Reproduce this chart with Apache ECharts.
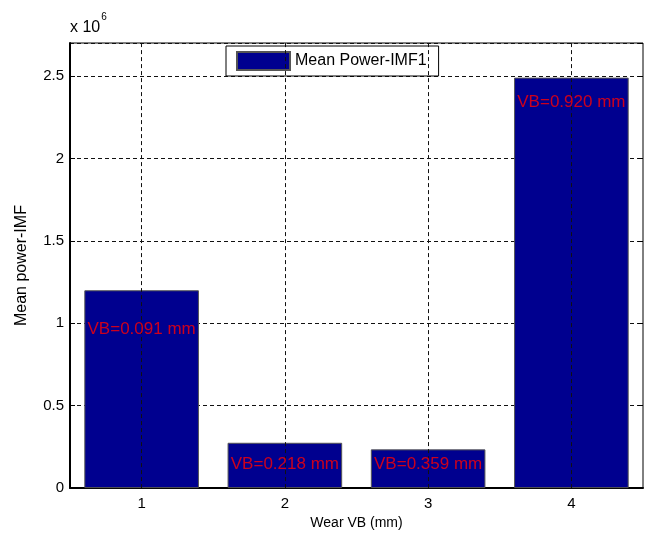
<!DOCTYPE html>
<html>
<head>
<meta charset="utf-8">
<script src="https://cdn.jsdelivr.net/npm/echarts@6/dist/echarts.min.js"></script>
<style>html,body{margin:0;padding:0;background:#fff}#c{width:649px;height:535px}</style>
</head>
<body>
<div id="c"></div>
<script>
var categories = ['1', '2', '3', '4'];
var meanPower = [1.2e6, 0.275e6, 0.235e6, 2.49e6];
var wearLabels = ['VB=0.091 mm', 'VB=0.218 mm', 'VB=0.359 mm', 'VB=0.920 mm'];
var labelY = [0.965e6, 0.145e6, 0.145e6, 2.34e6];
var yTickValues = [0, 0.5e6, 1e6, 1.5e6, 2e6, 2.5e6];

var FONT = '"Liberation Sans", Arial, sans-serif';
var chart = echarts.init(document.getElementById('c'), null, {renderer: 'canvas'});
var dashed = {type: [4, 3], color: '#111', width: 1};

chart.setOption({
  animation: false,
  textStyle: {fontFamily: FONT},
  grid: {left: 70, right: 6, top: 43, bottom: 45, show: true, borderColor: '#000', borderWidth: 1, backgroundColor: 'transparent'},
  legend: {
    data: [{name: 'Mean Power-IMF1', icon: 'rect'}],
    left: 226, top: 46,
    backgroundColor: '#fff', borderColor: '#000', borderWidth: 1,
    padding: [5, 12, 5, 10],
    itemWidth: 53, itemHeight: 18, itemGap: 5,
    textStyle: {fontFamily: FONT, fontSize: 16, color: '#000'},
    selectedMode: false
  },
  graphic: [{
    type: 'text', left: 70, top: 12,
    style: {
      text: '{a|x 10}{b|6}',
      rich: {
        a: {fontFamily: FONT, fontSize: 16, fill: '#000', verticalAlign: 'bottom', padding: [8, 1, 0, 0]},
        b: {fontFamily: FONT, fontSize: 10, fill: '#000', verticalAlign: 'top'}
      }
    }
  }],
  xAxis: [{
    type: 'category', data: categories, boundaryGap: true,
    name: 'Wear VB (mm)', nameLocation: 'middle', nameGap: 26,
    nameTextStyle: {fontFamily: FONT, fontSize: 14, color: '#000'},
    axisLine: {lineStyle: {color: '#000', width: 2}},
    axisTick: {alignWithLabel: true, inside: true, length: 5, lineStyle: {color: '#000'}},
    axisLabel: {fontFamily: FONT, fontSize: 15, color: '#000', margin: 8},
    splitLine: {show: false}
  }, {
    type: 'category', data: categories, position: 'top', boundaryGap: true,
    axisLine: {show: false},
    axisTick: {alignWithLabel: true, inside: true, length: 5, lineStyle: {color: '#000'}},
    axisLabel: {show: false}, splitLine: {show: false}
  }],
  yAxis: [{
    type: 'value', min: 0, max: 2.7e6, interval: 0.5e6,
    name: 'Mean power-IMF', nameLocation: 'middle', nameGap: 40,
    nameTextStyle: {fontFamily: FONT, fontSize: 16, color: '#000'},
    axisLine: {show: true, lineStyle: {color: '#000', width: 2}},
    axisTick: {show: true, inside: true, length: 5, lineStyle: {color: '#000'}},
    axisLabel: {fontFamily: FONT, fontSize: 15, color: '#000', margin: 6, showMaxLabel: false,
      formatter: function (v) { return yTickValues.indexOf(v) >= 0 ? String(v / 1e6) : ''; }},
    splitLine: {show: true, lineStyle: dashed}
  }, {
    type: 'value', min: 0, max: 2.7e6, interval: 0.5e6, position: 'right',
    axisLine: {show: false},
    axisTick: {show: true, inside: true, length: 5, lineStyle: {color: '#000'}},
    axisLabel: {show: false}, splitLine: {show: false}
  }],
  series: [{
    name: 'Mean Power-IMF1', type: 'bar', data: meanPower,
    barWidth: '80%',
    itemStyle: {color: '#00008F', borderColor: '#555', borderWidth: 1},
    markLine: {
      silent: true, symbol: 'none', label: {show: false},
      lineStyle: dashed,
      data: categories.map(function (c) { return {xAxis: c}; })
    },
    z: 2
  }, {
    name: 'labels', type: 'scatter', symbolSize: 0,
    data: labelY,
    label: {
      show: true, position: 'inside', color: '#ff0000',
      fontFamily: FONT, fontSize: 17,
      formatter: function (p) { return wearLabels[p.dataIndex]; }
    },
    z: 5
  }]
});
</script>
</body>
</html>
